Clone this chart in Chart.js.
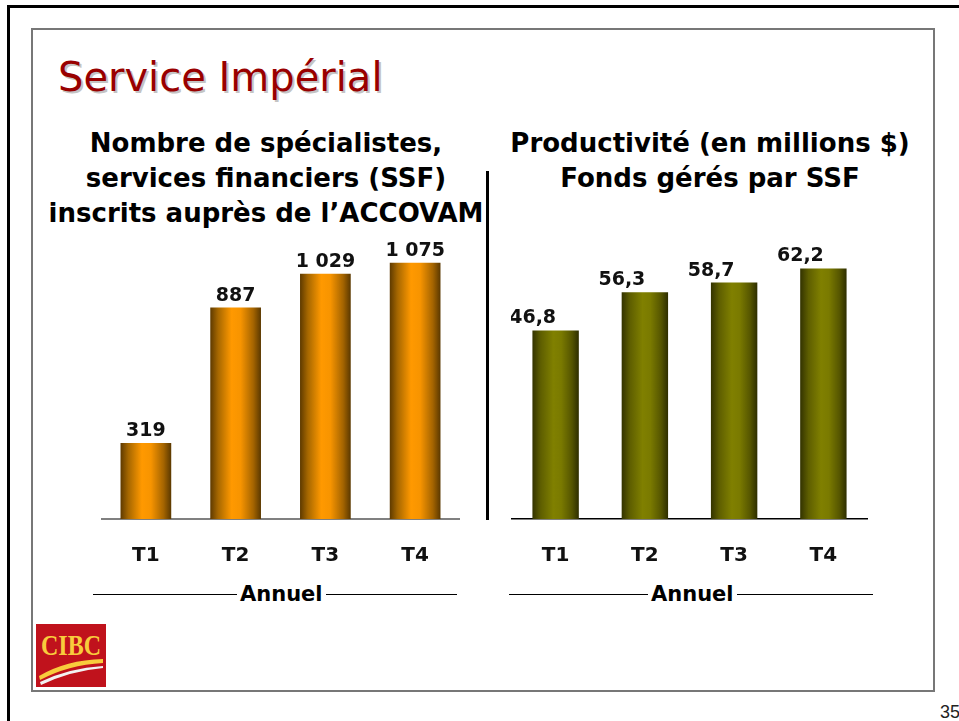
<!DOCTYPE html>
<html lang="fr">
<head>
  <meta charset="UTF-8">
  <title>Service Impérial</title>
  <script src="https://cdn.jsdelivr.net/npm/chart.js"></script>
  <style>
    body { margin: 0; width: 959px; height: 721px; position: relative; overflow: hidden; background: #fff; font-family: "DejaVu Sans", Verdana, sans-serif; color: #000; }
    .outer { position: absolute; left: 7px; top: 5px; width: 980px; height: 740px; border-left: 3px solid #000; border-top: 3px solid #000; }
    .frame { position: absolute; left: 31px; top: 28px; width: 900px; height: 660px; border: 2px solid #777; }
    h1 { position: absolute; left: 58px; top: 54px; margin: 0; font-weight: normal; font-size: 40px; line-height: 46px; color: #990000; text-shadow: 2px 2px 0 #c4c4c4; white-space: nowrap; }
    .ctitle { position: absolute; width: 480px; font-weight: bold; font-size: 26px; line-height: 35px; text-align: center; white-space: nowrap; }
    .sep { position: absolute; left: 486px; top: 171px; width: 3px; height: 349px; background: #000; }
    .box { position: absolute; }
    .annuel { position: absolute; height: 24px; display: flex; align-items: center; font-weight: bold; font-size: 21px; }
    .annuel i { display: block; height: 1px; background: #000; }
    .annuel span { padding: 0 3px; }
    .logo { position: absolute; left: 36px; top: 624px; }
    .page { position: absolute; left: 940px; top: 702px; font-family: "Liberation Sans", Arial, sans-serif; font-size: 18px; color: #222; }
  </style>
</head>
<body>
  <div class="outer"></div>
  <div class="frame"></div>
  <h1>Service Impérial</h1>

  <div class="ctitle" style="left:26px; top:126px;">Nombre de spécialistes,<br>services financiers (SSF)<br>inscrits auprès de l’ACCOVAM</div>
  <div class="ctitle" style="left:470px; top:126px;">Productivité (en millions $)<br>Fonds gérés par SSF</div>
  <div class="sep"></div>

  <div class="box" style="left:101px; top:225px;"><canvas id="leftChart" width="359" height="354"></canvas></div>
  <div class="box" style="left:511px; top:225px;"><canvas id="rightChart" width="357" height="354"></canvas></div>

  <div class="annuel" style="left:93px; top:582px; width:364px;"><i style="width:144px"></i><span>Annuel</span><i style="flex:1"></i></div>
  <div class="annuel" style="left:509px; top:582px; width:364px;"><i style="width:139px"></i><span>Annuel</span><i style="flex:1"></i></div>

  <svg class="logo" width="70" height="63" viewBox="0 0 70 63">
    <rect width="70" height="63" fill="#c0121c"/>
    <text x="35" y="31" text-anchor="middle" font-family="Liberation Serif, DejaVu Serif, serif" font-size="30" font-weight="bold" textLength="60" lengthAdjust="spacingAndGlyphs" fill="#f8cc3c">CIBC</text>
    <path d="M3 52 Q30 36 67 35 L67 39 Q32 41 4 56 Z" fill="#f8cc3c"/>
    <path d="M4 58 Q33 44 67 42 L67 44 Q34 47 5 61 Z" fill="#f2f2f2"/>
  </svg>
  <div class="page">35</div>

  <script>
    const categories = ["T1", "T2", "T3", "T4"];
    const ssfCount = [319, 887, 1029, 1075];
    const ssfText = ["319", "887", "1 029", "1 075"];
    const fundsPerSsf = [46.8, 56.3, 58.7, 62.2];
    const fundsText = ["46,8", "56,3", "58,7", "62,2"];

    // horizontal "cylinder" shading across each bar
    function cylinder(stops, flat) {
      return (ctx) => {
        const chart = ctx.chart;
        const xs = chart.scales.x;
        if (ctx.type !== "data" || !xs || !xs.width) return flat;
        const c = xs.getPixelForValue(ctx.dataIndex);
        const half = xs.width / categories.length * ctx.dataset.barPercentage / 2;
        const g = chart.ctx.createLinearGradient(c - half, 0, c + half, 0);
        stops.forEach(s => g.addColorStop(s[0], s[1]));
        return g;
      };
    }

    const valueLabels = {
      id: "valueLabels",
      afterDatasetsDraw(chart, args, opts) {
        const ctx = chart.ctx;
        const meta = chart.getDatasetMeta(0);
        ctx.save();
        ctx.font = "bold 19px 'DejaVu Sans', Verdana, sans-serif";
        ctx.fillStyle = "#111";
        ctx.textAlign = "center";
        ctx.textBaseline = "alphabetic";
        meta.data.forEach((bar, i) => {
          ctx.fillText(opts.labels[i], bar.x + (opts.dx || 0), bar.y - 7);
        });
        ctx.restore();
      }
    };

    function makeChart(id, values, labels, dx, max, barPct, stops, flat, axisColor, axisWidth) {
      return new Chart(document.getElementById(id), {
        type: "bar",
        data: {
          labels: categories,
          datasets: [{
            data: values,
            barPercentage: barPct,
            categoryPercentage: 1,
            backgroundColor: cylinder(stops, flat),
            borderWidth: 0
          }]
        },
        options: {
          responsive: false,
          animation: false,
          layout: { padding: { top: 8, left: 0, right: 0, bottom: 0 } },
          plugins: {
            legend: { display: false },
            tooltip: { enabled: false },
            valueLabels: { labels: labels, dx: dx }
          },
          scales: {
            x: {
              grid: { display: false, drawTicks: false },
              border: { display: true, color: axisColor, width: axisWidth },
              ticks: {
                padding: 25,
                color: "#111",
                font: { family: "'DejaVu Sans', Verdana, sans-serif", size: 20, weight: "bold" }
              },
              afterFit: (scale) => { scale.height = 60; }
            },
            y: { display: false, min: 0, max: max }
          }
        },
        plugins: [valueLabels]
      });
    }

    makeChart("leftChart", ssfCount, ssfText, 0, 1200, 0.565,
      [[0, "#5e3a00"], [0.15, "#a46600"], [0.42, "#ff9900"], [0.6, "#f79400"], [0.85, "#a46400"], [1, "#5a3800"]],
      "#ff9900", "#808080", 2);

    makeChart("rightChart", fundsPerSsf, fundsText, -23, 71, 0.52,
      [[0, "#333300"], [0.18, "#5e5e00"], [0.45, "#808000"], [0.62, "#7a7a00"], [0.85, "#555500"], [1, "#2e2e00"]],
      "#808000", "#000", 1.5);
  </script>
</body>
</html>
